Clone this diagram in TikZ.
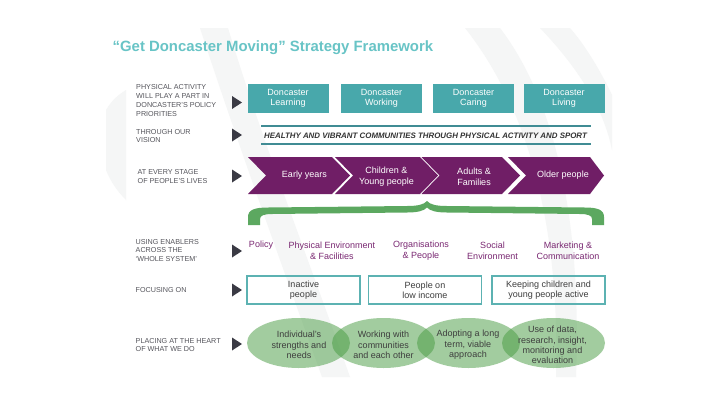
\documentclass[tikz,border=0pt]{standalone}
\usepackage{fontspec}
\setmainfont{Liberation Sans}
\usetikzlibrary{shapes.geometric}
\definecolor{titleteal}{RGB}{104,196,198}
\definecolor{boxteal}{RGB}{72,168,171}
\definecolor{focusteal}{RGB}{92,178,178}
\definecolor{lineteal}{RGB}{64,140,148}
\definecolor{purp}{RGB}{112,30,102}
\definecolor{enab}{RGB}{122,40,114}
\definecolor{bracegreen}{RGB}{92,168,96}
\definecolor{ellgreen}{RGB}{71,155,65}
\definecolor{labelgray}{RGB}{85,85,92}
\definecolor{arrowgray}{RGB}{58,58,68}
\definecolor{textgray}{RGB}{62,62,62}
\definecolor{wm}{RGB}{245,246,246}
\tikzset{
  lbl/.style={anchor=west, align=left, inner sep=0pt, text=labelgray,
    font=\fontsize{7.2}{8.7}\selectfont},
  tbox/.style={fill=boxteal, minimum width=81pt, minimum height=29pt, inner sep=0pt,
    text=white, align=center, font=\fontsize{9}{10.4}\selectfont},
  chevtext/.style={text=white, align=center, inner sep=0pt, font=\fontsize{9}{11}\selectfont},
  enabler/.style={text=enab, align=center, inner sep=0pt, font=\fontsize{9}{11}\selectfont},
  focusbox/.style={draw=focusteal, line width=1.8pt, minimum width=113pt, minimum height=28pt,
    inner sep=0pt, text=textgray, align=center, font=\fontsize{9}{10.2}\selectfont},
  ellfill/.style={ellipse, fill=ellgreen, fill opacity=0.5, minimum width=103pt,
    minimum height=50pt, inner sep=0pt},
  elltext/.style={text=textgray, align=center, inner sep=0pt, font=\fontsize{9}{10.4}\selectfont},
  pointer/.style={fill=arrowgray},
  chevron/.style={fill=purp},
}
\begin{document}
\begin{tikzpicture}[x=1pt,y=-1pt]
\useasboundingbox (0,0) rectangle (720,405);
\fill[white] (0,0) rectangle (720,405);
% faint watermark swooshes
\fill[wm] (200,28) .. controls (240,150) and (280,260) .. (322,377) -- (350,377)
  .. controls (305,250) and (262,140) .. (228,28) -- cycle;
\fill[wm] (465,28) .. controls (530,110) and (560,230) .. (556,377) -- (576,377)
  .. controls (582,220) and (555,100) .. (500,28) -- cycle;
\fill[wm] (540,28) .. controls (580,70) and (604,110) .. (612,150) -- (612,95)
  .. controls (600,70) and (585,45) .. (570,28) -- cycle;
\fill[wm] (106,110) .. controls (112,100) and (118,95) .. (126,90) -- (126,200)
  .. controls (116,190) and (110,180) .. (106,170) -- cycle;

% title
\node[anchor=west, inner sep=0pt, text=titleteal, font=\bfseries\fontsize{14.9}{16}\selectfont]
  (title) at (112.5,48) {“Get Doncaster Moving” Strategy Framework};

% left labels
\node[lbl] (l1) at (136,100.5) {PHYSICAL ACTIVITY\\WILL PLAY A PART IN\\DONCASTER’S POLICY\\PRIORITIES};
\node[lbl] (l2) at (136,136) {THROUGH OUR\\VISION};
\node[lbl] (l3) at (137.5,176.5) {AT EVERY STAGE\\OF PEOPLE’S LIVES};
\node[lbl] (l4) at (135.5,250.5) {USING ENABLERS\\ACROSS THE\\‘WHOLE SYSTEM’};
\node[lbl] (l5) at (135.5,290.5) {FOCUSING ON};
\node[lbl] (l6) at (135.5,345) {PLACING AT THE HEART\\OF WHAT WE DO};

% pointers
\foreach \yy in {102.5,135,176,251,290,344}{
  \fill[pointer] (232,\yy-6.5) -- (242,\yy) -- (232,\yy+6.5) -- cycle;
}

% policy priorities
\node[tbox] (p1) at (288,98.5) {Doncaster\\Learning};
\node[tbox] (p2) at (381.5,98.5) {Doncaster\\Working};
\node[tbox] (p3) at (473.5,98.5) {Doncaster\\Caring};
\node[tbox] (p4) at (564,98.5) {Doncaster\\Living};

% vision
\coordinate (va) at (261,126);
\coordinate (vb) at (591,126);
\coordinate (vc) at (261,144);
\coordinate (vd) at (591,144);
\draw[lineteal, line width=1.2pt] (va) -- (vb);
\draw[lineteal, line width=1.2pt] (vc) -- (vd);
\node[inner sep=0pt, text=black!80, font=\bfseries\itshape\fontsize{7.9}{9}\selectfont]
  (vision) at (425.5,135.5) {HEALTHY AND VIBRANT COMMUNITIES THROUGH PHYSICAL ACTIVITY AND SPORT};

% life stages chevrons
\fill[chevron] (248,157) -- ++(84,0) -- ++(18,18.5) -- ++(-18,18.5) -- ++(-84,0) -- ++(18,-18.5) -- cycle;
\fill[chevron] (335,157) -- ++(85,0) -- ++(18,18.5) -- ++(-18,18.5) -- ++(-85,0) -- ++(18,-18.5) -- cycle;
\fill[chevron] (421.5,157) -- ++(80.5,0) -- ++(18,18.5) -- ++(-18,18.5) -- ++(-80.5,0) -- ++(18,-18.5) -- cycle;
\fill[chevron] (508,157) -- ++(82,0) -- ++(14,18.5) -- ++(-14,18.5) -- ++(-82,0) -- ++(18,-18.5) -- cycle;
\node[chevtext] (s1) at (304.5,175.5) {Early years};
\node[chevtext] (s2) at (386.5,176.5) {Children \&\\Young people};
\node[chevtext] (s3) at (474,176.5) {Adults \&\\Families};
\node[chevtext] (s4) at (563,175.5) {Older people};

% brace
\fill[bracegreen] (248,225) -- (248,217) .. controls (248,210) and (254,207.5) .. (268,207.5)
  -- (407,206) .. controls (418,206) and (424,204.5) .. (427,201)
  .. controls (430,204.5) and (436,206) .. (447,206)
  -- (585,207.5) .. controls (598,207.5) and (604,210) .. (604,217) -- (604,225)
  -- (592,225) -- (592,219) .. controls (592,215.5) and (588,214) .. (580,214)
  -- (447,212.5) .. controls (437,212.5) and (430,211) .. (427,207.5)
  .. controls (424,211) and (417,212.5) .. (407,212.5)
  -- (272,214) .. controls (264,214) and (260,215.5) .. (260,219) -- (260,225) -- cycle;

% enablers
\node[enabler] (e1) at (261,245) {Policy};
\node[enabler] (e2) at (332,250.5) {Physical Environment\\\& Facilities};
\node[enabler] (e3) at (421,250.5) {Organisations\\\& People};
\node[enabler] (e4) at (492.5,250.5) {Social\\Environment};
\node[enabler] (e5) at (568,250.5) {Marketing \&\\Communication};

% focus
\node[focusbox] (f1) at (303.5,290) {Inactive\\people};
\node[focusbox] (f2) at (425,290) {People on\\low income};
\node[focusbox] (f3) at (548.5,290) {Keeping children and\\young people active};

% heart
\node[ellfill] (h1) at (298.5,343) {};
\node[ellfill] (h2) at (383.5,343) {};
\node[ellfill] (h3) at (468.5,343) {};
\node[ellfill] (h4) at (553.5,343) {};
\node[elltext] (t1) at (299,345) {Individual’s\\strengths and\\needs};
\node[elltext] (t2) at (383.5,345) {Working with\\communities\\and each other};
\node[elltext] (t3) at (468,345) {Adopting a long\\term, viable\\approach};
\node[elltext] (t4) at (552.5,345) {Use of data,\\research, insight,\\monitoring and\\evaluation};
\end{tikzpicture}
\end{document}
